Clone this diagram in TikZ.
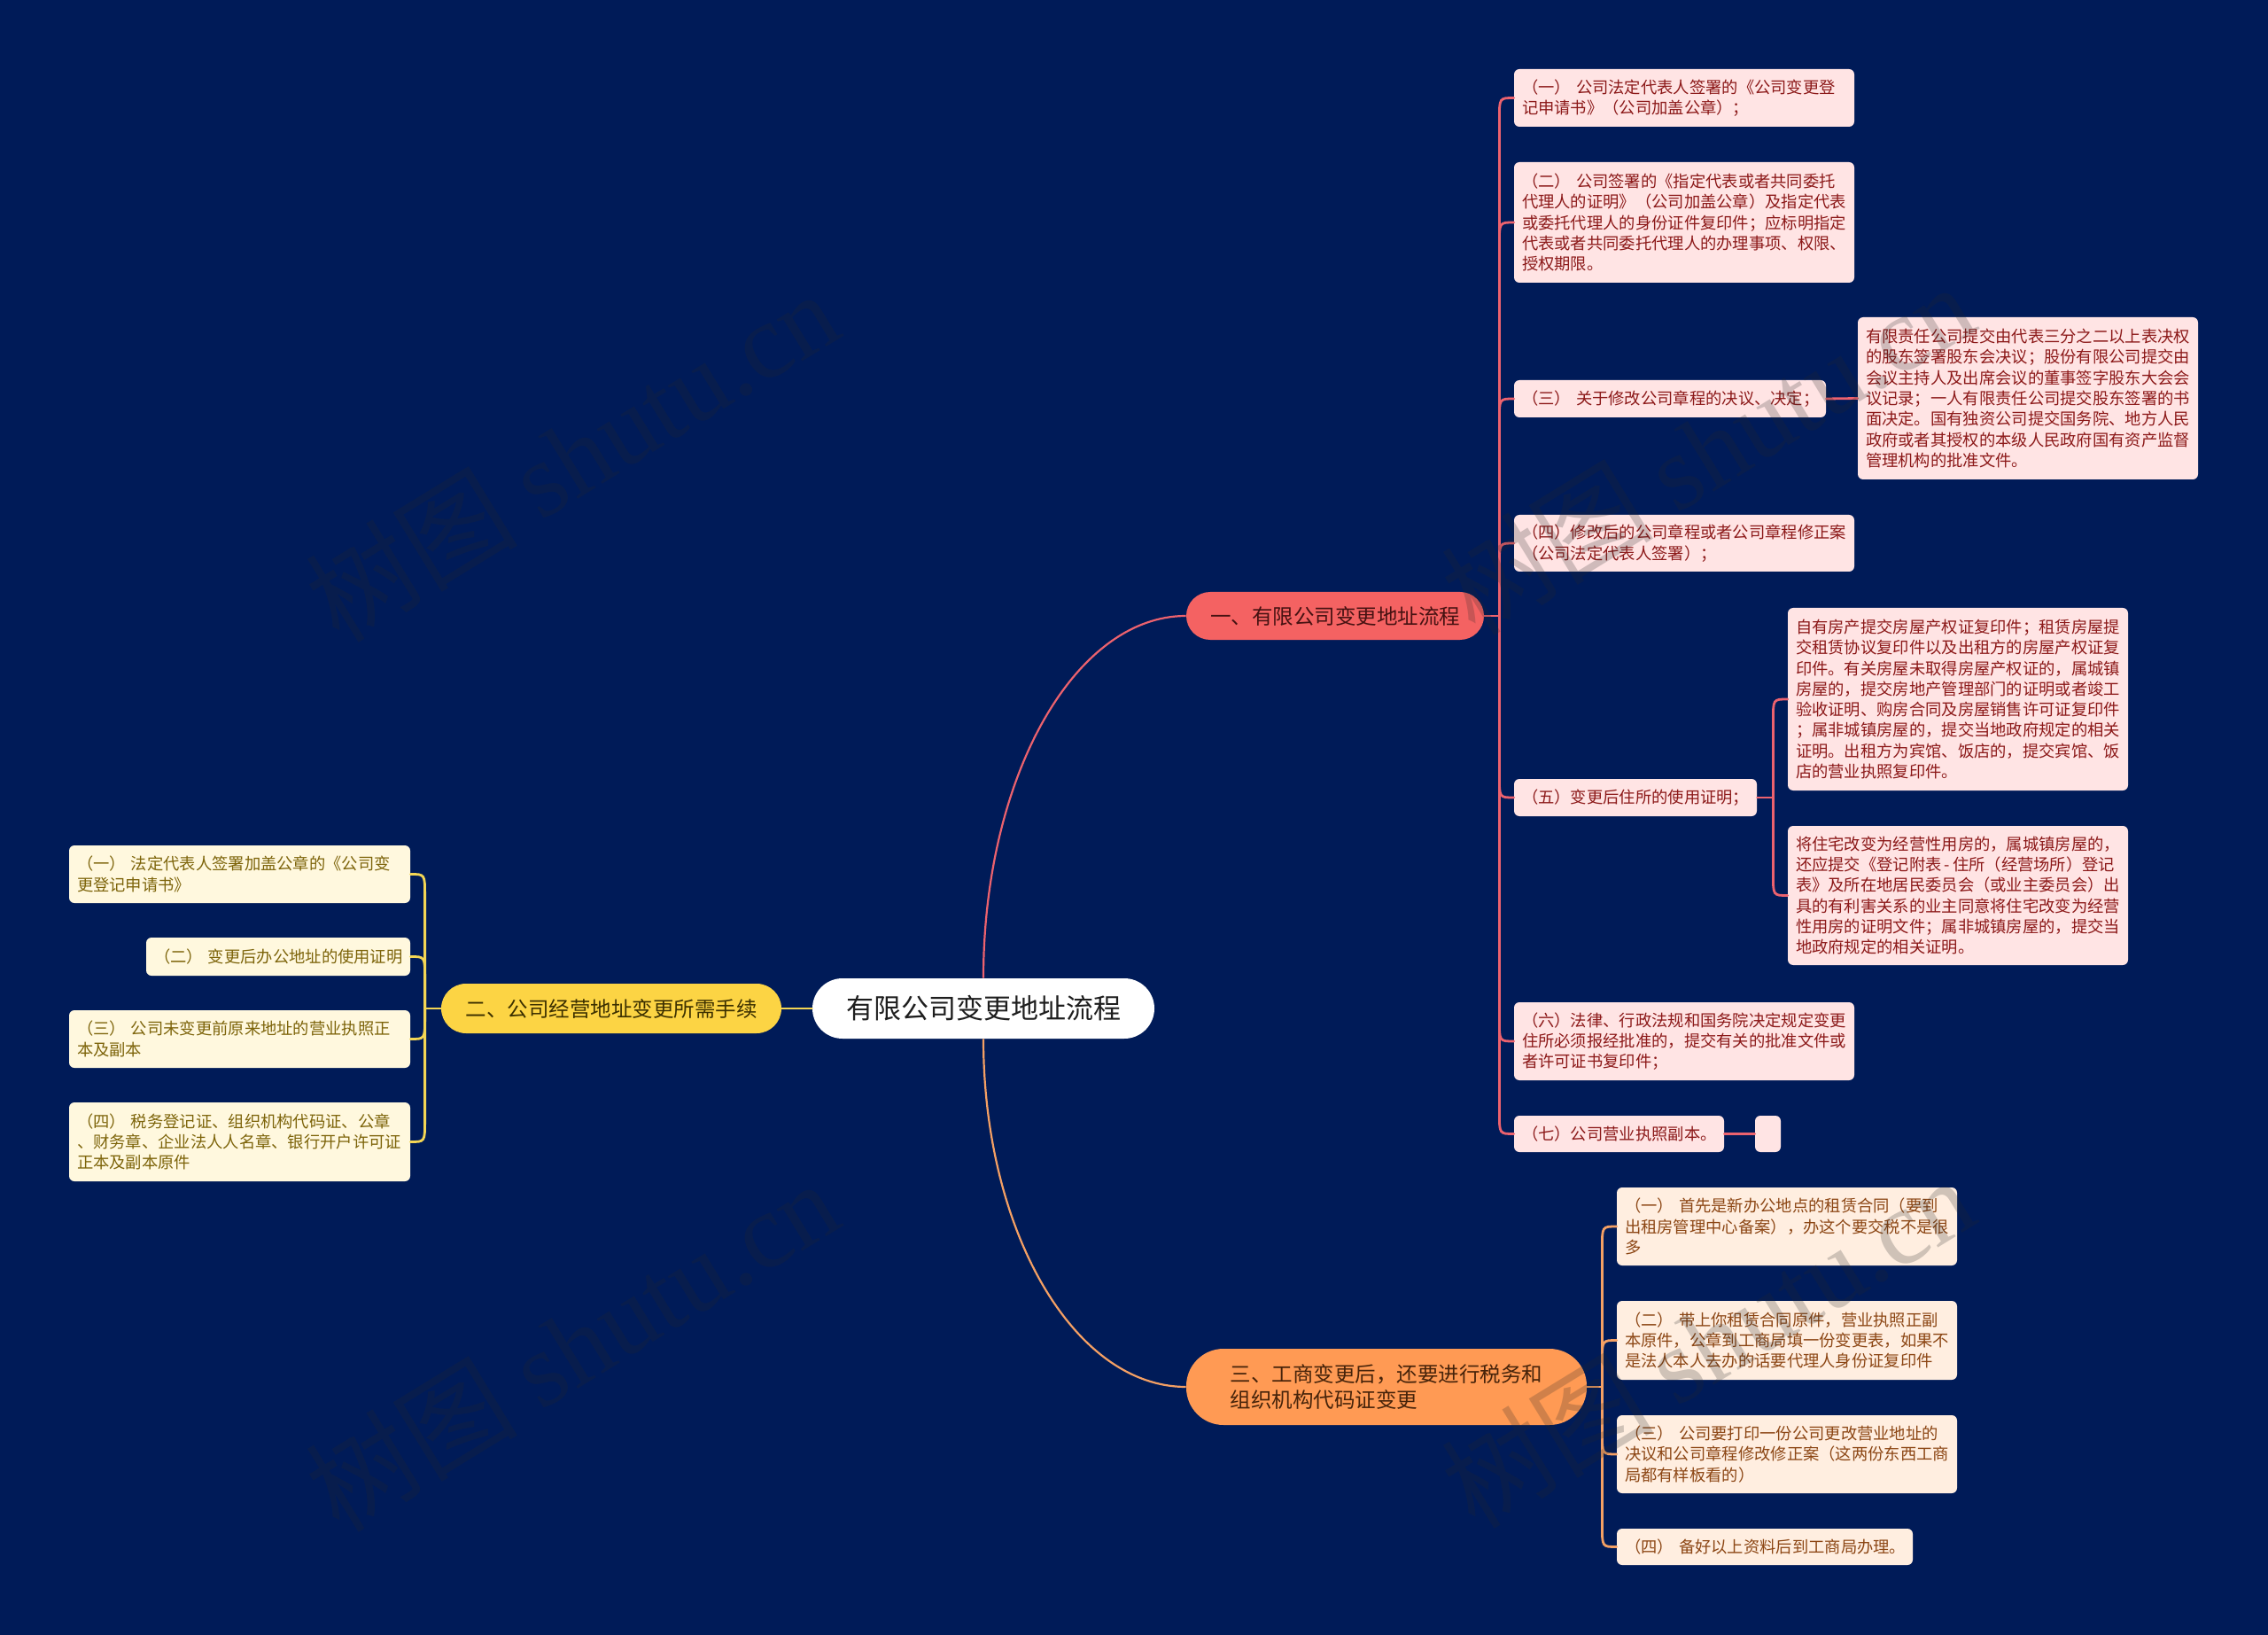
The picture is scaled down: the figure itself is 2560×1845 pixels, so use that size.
\documentclass[tikz,border=0pt]{standalone}
\usepackage{fontspec}
\setmainfont{Noto Sans CJK SC}
\newfontfamily\wmserif{Liberation Serif}
\usetikzlibrary{calc}
\definecolor{bgc}{RGB}{0,27,88}
\definecolor{b1fill}{RGB}{244,98,98}
\definecolor{b1txt}{RGB}{70,18,18}
\definecolor{b2fill}{RGB}{252,212,68}
\definecolor{b2txt}{RGB}{60,48,0}
\definecolor{b3fill}{RGB}{255,154,84}
\definecolor{b3txt}{RGB}{70,35,10}
\definecolor{cfill1}{RGB}{255,228,228}
\definecolor{ctext1}{RGB}{140,25,25}
\definecolor{cfill2}{RGB}{255,248,222}
\definecolor{ctext2}{RGB}{125,100,10}
\definecolor{cfill3}{RGB}{255,238,224}
\definecolor{ctext3}{RGB}{140,70,20}
\definecolor{lc1}{RGB}{236,98,110}
\definecolor{lc2}{RGB}{244,214,84}
\definecolor{lc3}{RGB}{244,160,100}
\definecolor{wmc}{RGB}{40,40,40}
\newcommand\fsC{\fontsize{9.15pt}{11.65pt}\selectfont}
\newcommand\mmlink[4]{\draw[#1] (#2) -- ($(#2 |- #3)+(0,#4)$) .. controls (#2 |- #3) .. (#3);}
\begin{document}
\begin{tikzpicture}[x=0.5pt,y=-0.5pt,
  cbase/.style={rounded corners=3pt, inner xsep=4.5pt, inner ysep=0pt, align=left, font=\fsC},
  cred/.style={cbase, fill=cfill1, text=ctext1},
  cyel/.style={cbase, fill=cfill2, text=ctext2},
  corg/.style={cbase, fill=cfill3, text=ctext3},
  brn/.style={inner sep=0pt, align=left, font=\fontsize{11.75pt}{14.2pt}\selectfont},
  lred/.style={draw=lc1, line width=1.4pt, line cap=round},
  lyel/.style={draw=lc2, line width=1.4pt, line cap=round},
  lorg/.style={draw=lc3, line width=1.4pt, line cap=round},
  wm/.style={rotate=31.5, text=wmc, opacity=0.22, font=\fontsize{60pt}{60pt}\selectfont, inner sep=0pt}
]
\useasboundingbox (0,0) rectangle (2560,1845);
\fill[bgc] (0,0) rectangle (2560,1845);

% center and branches
\node[fill=white, rounded corners=17pt, minimum width=193pt, minimum height=34pt, inner sep=0pt,
      font=\fontsize{15.5pt}{18pt}\selectfont, text={rgb,255:red,30;green,30;blue,30}] (ctr) at (1110,1138) {有限公司变更地址流程};
\node[brn, fill=b1fill, text=b1txt, rounded corners=13.5pt, minimum width=168pt, minimum height=27pt] (b1) at (1507,695) {一、有限公司变更地址流程};
\node[brn, fill=b2fill, text=b2txt, rounded corners=14pt, minimum width=192pt, minimum height=28pt] (b2) at (690,1138) {二、公司经营地址变更所需手续};
\node[brn, fill=b3fill, text=b3txt, rounded corners=21pt, minimum width=226pt, minimum height=43pt] (b3) at (1565,1565) {三、工商变更后，还要进行税务和\\组织机构代码证变更};

% branch 1 children
\node[cred, text width=183pt, minimum height=32.5pt] (c1) at (1901,110.5) {（一）~公司法定代表人签署的《公司变更登\\记申请书》（公司加盖公章）；};
\node[cred, text width=183pt, minimum height=68pt] (c2) at (1901,251) {（二）~公司签署的《指定代表或者共同委托\\代理人的证明》（公司加盖公章）及指定代表\\或委托代理人的身份证件复印件；应标明指定\\代表或者共同委托代理人的办理事项、权限、\\授权期限。};
\node[cred, text width=167pt, minimum height=21pt] (c3) at (1885,450) {（三）~关于修改公司章程的决议、决定；};
\node[cred, text width=183pt, minimum height=91.5pt] (c3a) at (2289,449.5) {有限责任公司提交由代表三分之二以上表决权\\的股东签署股东会决议；股份有限公司提交由\\会议主持人及出席会议的董事签字股东大会会\\议记录；一人有限责任公司提交股东签署的书\\面决定。国有独资公司提交国务院、地方人民\\政府或者其授权的本级人民政府国有资产监督\\管理机构的批准文件。};
\node[cred, text width=183pt, minimum height=32pt] (c4) at (1901,613) {（四）修改后的公司章程或者公司章程修正案\\（公司法定代表人签署）；};
\node[cred, text width=128pt, minimum height=21pt] (c5) at (1846,900) {（五）变更后住所的使用证明；};
\node[cred, text width=183pt, minimum height=103pt] (c5a) at (2210,789) {自有房产提交房屋产权证复印件；租赁房屋提\\交租赁协议复印件以及出租方的房屋产权证复\\印件。有关房屋未取得房屋产权证的，属城镇\\房屋的，提交房地产管理部门的证明或者竣工\\验收证明、购房合同及房屋销售许可证复印件\\；属非城镇房屋的，提交当地政府规定的相关\\证明。出租方为宾馆、饭店的，提交宾馆、饭\\店的营业执照复印件。};
\node[cred, text width=183pt, minimum height=78.5pt] (c5b) at (2210,1010.5) {将住宅改变为经营性用房的，属城镇房屋的，\\\mbox{还应提交《登记附表\,-\,住所（经营场所）登记}\\表》及所在地居民委员会（或业主委员会）出\\具的有利害关系的业主同意将住宅改变为经营\\性用房的证明文件；属非城镇房屋的，提交当\\地政府规定的相关证明。};
\node[cred, text width=183pt, minimum height=44pt] (c6) at (1901,1175) {（六）法律、行政法规和国务院决定规定变更\\住所必须报经批准的，提交有关的批准文件或\\者许可证书复印件；};
\node[cred, text width=109.5pt, minimum height=20.5pt] (c7) at (1827.5,1279.5) {（七）公司营业执照副本。};
\node[cbase, fill=cfill1, inner sep=0pt, minimum width=14.5pt, minimum height=20.5pt] (c7a) at (1995.5,1279.5) {};

% branch 3 children
\node[corg, text width=183pt, minimum height=44pt] (d1) at (2017,1384) {（一）~首先是新办公地点的租赁合同（要到\\出租房管理中心备案），办这个要交税不是很\\多};
\node[corg, text width=183pt, minimum height=44.5pt] (d2) at (2017,1512.5) {（二）~带上你租赁合同原件，营业执照正副\\本原件，公章到工商局填一份变更表，如果不\\是法人本人去办的话要代理人身份证复印件};
\node[corg, text width=183pt, minimum height=44pt] (d3) at (2017,1641) {（三）~公司要打印一份公司更改营业地址的\\决议和公司章程修改修正案（这两份东西工商\\局都有样板看的）};
\node[corg, text width=158pt, minimum height=20.5pt] (d4) at (1992,1745.5) {（四）~备好以上资料后到工商局办理。};

% branch 2 children
\node[cyel, text width=183.5pt, minimum height=32.5pt] (e1) at (270.5,986.5) {（一）~法定代表人签署加盖公章的《公司变\\更登记申请书》};
\node[cyel, text width=140pt, minimum height=21.5pt] (e2) at (314,1079.5) {（二）~变更后办公地址的使用证明};
\node[cyel, text width=183.5pt, minimum height=32.5pt] (e3) at (270.5,1172.5) {（三）~公司未变更前原来地址的营业执照正\\本及副本};
\node[cyel, text width=183.5pt, minimum height=44.5pt] (e4) at (270.5,1288.5) {（四）~税务登记证、组织机构代码证、公章\\、财务章、企业法人人名章、银行开户许可证\\正本及副本原件};

% junctions
\coordinate (j1) at ($(b1.east)+(17,0)$);
\coordinate (j2) at ($(b2.west)+(-18,0)$);
\coordinate (j3) at ($(b3.east)+(17,0)$);
\coordinate (j5) at ($(c5.east)+(18,0)$);

% center connectors
\draw[draw=lc1, line width=1.1pt] (ctr.north) .. controls ($(ctr.north)+(0,-226)$) and ($(b1.west)+(-126,0)$) .. (b1.west);
\draw[draw=lc3, line width=1.1pt] (ctr.south) .. controls ($(ctr.south)+(0,217)$) and ($(b3.west)+(-126,0)$) .. (b3.west);
\draw[lyel] (ctr.west) -- (b2.east);

% branch 1 links
\draw[lred] (b1.east) -- (j1);
\mmlink{lred}{j1}{c1.west}{24}
\mmlink{lred}{j1}{c2.west}{24}
\mmlink{lred}{j1}{c3.west}{24}
\mmlink{lred}{j1}{c4.west}{24}
\mmlink{lred}{j1}{c5.west}{-24}
\mmlink{lred}{j1}{c6.west}{-24}
\mmlink{lred}{j1}{c7.west}{-24}
\draw[lred] (c3.east) -- (c3a.west);
\draw[lred] (c5.east) -- (j5);
\mmlink{lred}{j5}{c5a.west}{24}
\mmlink{lred}{j5}{c5b.west}{-24}
\draw[lred] (c7.east) -- (c7a.west);

% branch 3 links
\draw[lorg] (b3.east) -- (j3);
\mmlink{lorg}{j3}{d1.west}{24}
\mmlink{lorg}{j3}{d2.west}{24}
\mmlink{lorg}{j3}{d3.west}{-24}
\mmlink{lorg}{j3}{d4.west}{-24}

% branch 2 links
\draw[lyel] (b2.west) -- (j2);
\mmlink{lyel}{j2}{e1.east}{24}
\mmlink{lyel}{j2}{e2.east}{24}
\mmlink{lyel}{j2}{e3.east}{-24}
\mmlink{lyel}{j2}{e4.east}{-24}

% watermarks
\node[wm] (wm1) at (645,514) {树图~{\wmserif shutu.cn}};
\node[wm] (wm2) at (1927,506) {树图~{\wmserif shutu.cn}};
\node[wm] (wm3) at (645,1518) {树图~{\wmserif shutu.cn}};
\node[wm] (wm4) at (1927,1514) {树图~{\wmserif shutu.cn}};
\end{tikzpicture}
\end{document}
